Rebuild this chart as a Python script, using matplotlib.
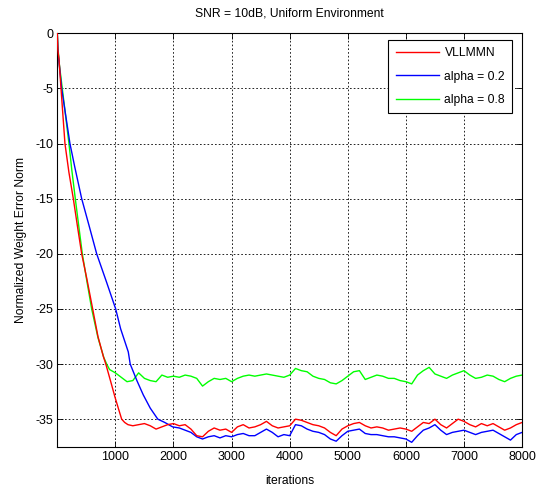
import matplotlib
matplotlib.use("Agg")
import matplotlib.pyplot as plt
import numpy as np

plt.rcParams['font.family'] = ['Liberation Sans', 'DejaVu Sans']
plt.rcParams['axes.unicode_minus'] = False

title = "SNR = 10dB, Uniform Environment"
xlabel = "iterations"
ylabel = "Normalized Weight Error Norm"
labels = ["VLLMMN", "alpha = 0.2", "alpha = 0.8"]
xticks = [1000, 2000, 3000, 4000, 5000, 6000, 7000, 8000]
yticks = [0, -5, -10, -15, -20, -25, -30, -35]

# ---- VLLMMN (red) ----
red_x_start = [0, 10, 30, 64, 132, 200, 276, 350, 420, 510, 609, 700, 792, 835,
               920, 993, 1050, 1108, 1160, 1217]
red_y_start = [0, -1.5, -2.4, -5, -10, -12.6, -15, -17.6, -20, -22.3, -25, -27.5,
               -29.3, -30.0, -31.6, -33.0, -34.0, -35.0, -35.3, -35.5]
red_x_plateau = list(range(1300, 8001, 100))
red_y_plateau = [-35.6, -35.5, -35.4, -35.6, -35.9, -35.7, -35.5, -35.4, -35.6, -35.5,
                 -35.9, -36.5, -36.6, -36.1, -35.8, -36.0, -35.9, -36.2, -35.7, -35.5,
                 -35.8, -35.7, -35.5, -35.2, -35.6, -35.8, -35.7, -35.6, -35.0, -35.1,
                 -35.3, -35.5, -35.6, -35.8, -36.2, -36.5, -35.9, -35.6, -35.4, -35.3,
                 -35.6, -35.8, -35.7, -35.8, -36.0, -35.9, -35.8, -35.9, -36.1, -35.7,
                 -35.3, -35.4, -35.0, -35.5, -35.8, -35.4, -35.0, -35.2, -35.5, -35.7,
                 -35.4, -35.6, -35.4, -35.7, -36.0, -35.8, -35.5, -35.3]

# ---- alpha = 0.2 (blue) ----
blue_x_start = [0, 10, 30, 75, 218, 300, 420, 550, 678, 850, 1005, 1090, 1222,
                1255, 1370, 1480, 1600, 1730, 1850, 1985]
blue_y_start = [0, -1.5, -2.6, -5, -10, -12.1, -15, -17.5, -20, -22.6, -25, -26.8,
                -28.9, -30.0, -31.5, -32.8, -34.0, -35.0, -35.3, -35.7]
blue_x_plateau = list(range(2100, 8001, 100))
blue_y_plateau = [-35.8, -36.0, -36.2, -36.6, -36.8, -36.6, -36.5, -36.7, -36.5, -36.6,
                  -36.4, -36.3, -36.5, -36.5, -36.2, -35.9, -36.2, -36.6, -36.4, -36.5,
                  -35.5, -35.6, -35.9, -36.1, -36.2, -36.4, -36.8, -37.0, -36.5, -36.1,
                  -36.0, -35.9, -36.3, -36.4, -36.4, -36.5, -36.6, -36.6, -36.7, -36.8,
                  -37.1, -36.5, -36.0, -35.8, -35.5, -36.0, -36.4, -36.2, -36.1, -36.0,
                  -36.2, -36.4, -36.2, -36.1, -36.0, -36.3, -36.6, -36.9, -36.4, -36.2]

# ---- alpha = 0.8 (green) ----
green_x_start = [0, 12, 35, 86, 201, 250, 310, 370, 431, 510, 592, 700, 800, 850]
green_y_start = [0, -1.3, -2.8, -5, -10, -12.4, -15, -17.5, -20, -22.5, -25, -27.6,
                 -29.4, -30.0]
green_x_plateau = list(range(900, 8001, 100))
green_y_plateau = [-30.5, -30.8, -31.2, -31.6, -31.5, -30.8, -31.3, -31.5, -31.6, -31.0,
                   -31.2, -31.1, -31.2, -31.0, -31.1, -31.3, -32.0, -31.6, -31.3, -31.4,
                   -31.3, -31.6, -31.3, -31.1, -31.0, -31.1, -31.0, -30.9, -31.0, -31.1,
                   -31.2, -31.0, -30.4, -30.6, -30.7, -31.1, -31.3, -31.4, -31.7, -31.8,
                   -31.5, -31.1, -30.7, -30.6, -31.4, -31.2, -31.0, -31.1, -31.3, -31.3,
                   -31.5, -31.6, -31.8, -31.0, -30.6, -30.3, -30.9, -31.1, -31.3, -31.0,
                   -30.8, -30.6, -31.0, -31.3, -31.2, -31.0, -31.1, -31.4, -31.6, -31.3,
                   -31.1, -31.0]

fig = plt.figure(figsize=(5.43, 4.88), dpi=100)
ax = fig.add_axes([0.1055, 0.0846, 0.856, 0.847])

series = [
    (red_x_start + red_x_plateau, red_y_start + red_y_plateau, (1, 0, 0)),
    (blue_x_start + blue_x_plateau, blue_y_start + blue_y_plateau, (0, 0, 1)),
    (green_x_start + green_x_plateau, green_y_start + green_y_plateau, (0, 1, 0)),
]
handles = []
for (xs, ys, c), lab in zip(series, labels):
    h, = ax.plot(xs, ys, color=c, lw=1.0, label=lab)
    handles.append(h)
handles[0].set_zorder(3)
handles[1].set_zorder(2.5)
handles[2].set_zorder(2.4)

ax.set_xlim(0, 8000)
ax.set_ylim(-37.5, 0)
ax.set_xticks(xticks)
ax.set_yticks(yticks)
ax.tick_params(direction='in', length=4, width=0.6, top=True, right=True,
               labelsize=9, colors='black', pad=3)
ax.grid(True, color='black', linestyle=(0, (2, 2.5)), linewidth=0.6)
for sp in ax.spines.values():
    sp.set_linewidth(0.8)
    sp.set_color('black')

ax.set_title(title, fontsize=8.7, pad=12)
ax.set_xlabel(xlabel, fontsize=8.7, labelpad=9)
ax.set_ylabel(ylabel, fontsize=8.7, labelpad=6)

leg = ax.legend(handles=handles, loc='upper right', bbox_to_anchor=(0.979, 0.984),
                fontsize=8.7, fancybox=False, framealpha=1, edgecolor='black',
                handlelength=3.6, handletextpad=0.45, labelspacing=0.95,
                borderpad=0.6, borderaxespad=0)
leg.get_frame().set_linewidth(0.8)

fig.savefig("out.png", dpi=100)
